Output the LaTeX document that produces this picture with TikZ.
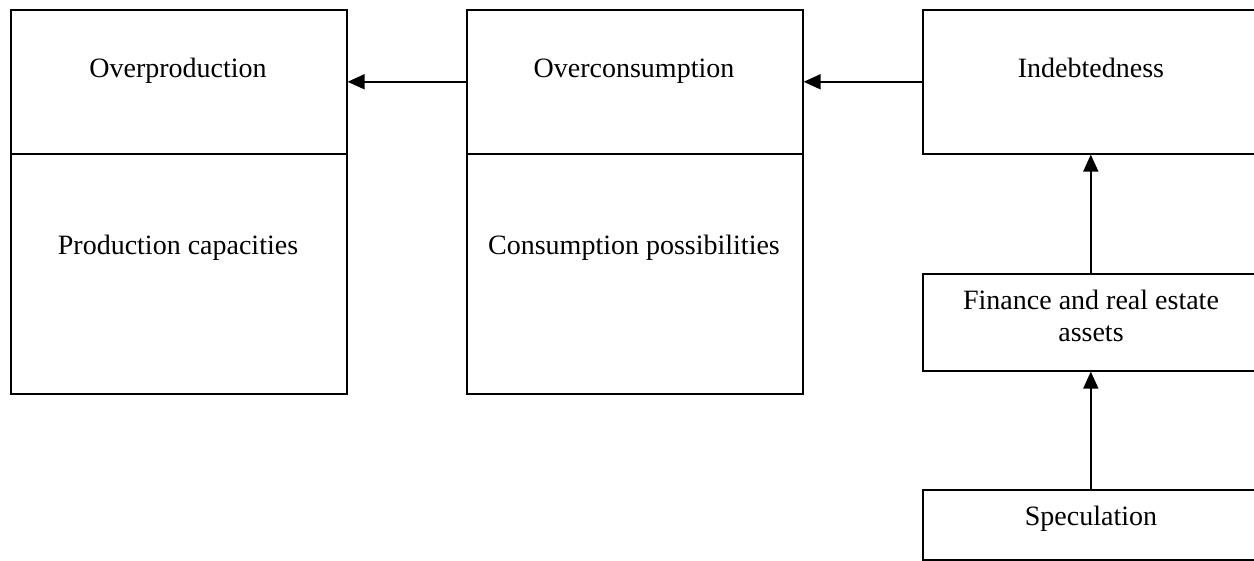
\documentclass[tikz,border=0pt]{standalone}
\usepackage{fontspec}
\setmainfont{Liberation Serif}
\usetikzlibrary{arrows.meta}

\begin{document}
\begin{tikzpicture}[%%
  x=0.5pt,y=-0.5pt,%%
  boxStyle/.style={draw,line width=0.8pt,inner sep=0pt,anchor=north west},%%
  labelStyle/.style={font=\fontsize{14}{16}\selectfont,inner sep=0pt,anchor=base},%%
  arrowStyle/.style={-{Triangle[length=8.5pt,width=7.5pt]},line width=0.8pt}%%
]
%%
%%
\pgfmathsetmacro{\boxW}{168}  %% width of a column box, in pt
\pgfmathsetmacro{\topH}{72}   %% height of the upper boxes
\pgfmathsetmacro{\lowH}{120}  %% height of the lower boxes
\pgfmathsetmacro{\finH}{48.5} %% height of the assets box
\pgfmathsetmacro{\specH}{35}  %% height of the speculation box
%%
%% Fix the frame of the picture.  The right column runs off the page.
\useasboundingbox (0,0) rectangle (1254,561);
\clip (0,0) rectangle (1254,561);
%%
%% Left column: overproduction.
\node[boxStyle,minimum width=\boxW pt,minimum height=\topH pt] (prodTop) at (10,9) {};
\node[boxStyle,minimum width=\boxW pt,minimum height=\lowH pt] (prodLow) at (10,153) {};
\node[labelStyle] (prodText) at (178,78) {Overproduction};
\node[labelStyle] (capText) at (178,255) {Production capacities};
%%
%% Middle column: overconsumption.
\node[boxStyle,minimum width=\boxW pt,minimum height=\topH pt] (conTop) at (466,9) {};
\node[boxStyle,minimum width=\boxW pt,minimum height=\lowH pt] (conLow) at (466,153) {};
\node[labelStyle] (conText) at (634,78) {Overconsumption};
\node[labelStyle] (possText) at (634,255) {Consumption possibilities};
%%
%% Right column: debt, assets and speculation.
\node[boxStyle,minimum width=\boxW pt,minimum height=\topH pt] (debtBox) at (922,9) {};
\node[boxStyle,minimum width=\boxW pt,minimum height=\finH pt] (finBox) at (922,273) {};
\node[boxStyle,minimum width=\boxW pt,minimum height=\specH pt] (specBox) at (922,489) {};
\node[labelStyle] (debtText) at (1091,78) {Indebtedness};
\node[labelStyle,anchor=center,align=center] (finText) at (1091,316) {Finance and real estate\\assets};
\node[labelStyle] (specText) at (1091,525) {Speculation};
%%
%% Connectors.
\draw[arrowStyle] (conTop.west) -- (prodTop.east);
\draw[arrowStyle] (debtBox.west) -- (conTop.east);
\draw[arrowStyle] (finBox.north) -- (debtBox.south);
\draw[arrowStyle] (specBox.north) -- (finBox.south);
\end{tikzpicture}
\end{document}
